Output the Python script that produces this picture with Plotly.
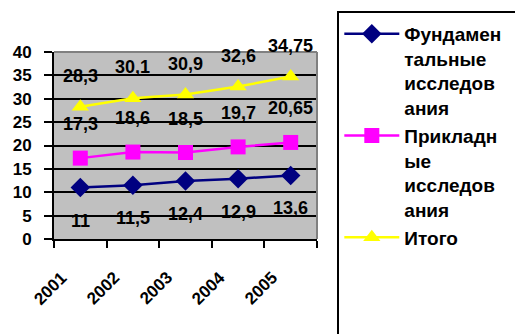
import plotly.graph_objects as go

years = ["2001", "2002", "2003", "2004", "2005"]
fundamental = [11, 11.5, 12.4, 12.9, 13.6]
applied = [17.3, 18.6, 18.5, 19.7, 20.65]
total = [28.3, 30.1, 30.9, 32.6, 34.75]
names = ["Фундамен<br>тальные<br>исследов<br>ания", "Прикладн<br>ые<br>исследов<br>ания", "Итого"]
y_ticks = [0, 5, 10, 15, 20, 25, 30, 35, 40]
colors = ["#000080", "#FF00FF", "#FFFF00"]
symbols = ["diamond", "square", "triangle-up"]
label_shift = [-33, 34, 31]

FONT = "Liberation Sans"

def fmt(v):
    return ("%g" % v).replace(".", ",")

fig = go.Figure()
series = [fundamental, applied, total]
for k, (s, name, c, sym) in enumerate(zip(series, names, colors, symbols)):
    fig.add_trace(go.Scatter(
        x=years, y=s, name="<b>" + name.replace("<br>", "</b><br><b>") + "</b>",
        mode="lines+markers", legendgroup="g%d" % k,
        line=dict(color=c, width=2.5),
        marker=dict(symbol=sym, size=15, color=c),
    ))

annotations = []
for s, sh in zip(series, label_shift):
    for i, v in enumerate(s):
        annotations.append(dict(
            x=i, y=v, xref="x", yref="y", text="<b>" + fmt(v) + "</b>",
            showarrow=False, yshift=sh,
            font=dict(size=18, color="black", family=FONT),
        ))
for i, x in enumerate(years):
    annotations.append(dict(
        x=i, xref="x", y=0, yref="paper", text="<b>" + x + "</b>", showarrow=False,
        textangle=-45, xshift=-30, yshift=-49, xanchor="center", yanchor="middle",
        font=dict(size=17, color="black", family=FONT),
    ))

x0p = (338 - 54) / 263
y1p = (239 - 12) / 187

fig.update_layout(
    width=515, height=334,
    margin=dict(l=54, r=198, t=52, b=95, autoexpand=False),
    paper_bgcolor="white", plot_bgcolor="#C0C0C0",
    font=dict(family=FONT, size=17, color="black"),
    showlegend=True,
    legend=dict(
        x=x0p + 0.005, y=y1p - 0.015, xanchor="left", yanchor="top",
        bgcolor="rgba(0,0,0,0)", borderwidth=0,
        font=dict(size=19, family=FONT),
        itemwidth=55, valign="top", tracegroupgap=8, maxheight=1000,
        traceorder="normal",
    ),
    annotations=annotations,
    shapes=[
        dict(type="rect", xref="paper", yref="paper", x0=x0p, x1=2, y0=-1, y1=y1p,
             line=dict(color="black", width=2), fillcolor="rgba(0,0,0,0)", layer="above"),
        dict(type="line", xref="paper", yref="paper", x0=0, x1=1, y0=1, y1=1,
             line=dict(color="#808080", width=2), layer="above"),
        dict(type="line", xref="paper", yref="paper", x0=1, x1=1, y0=0, y1=1,
             line=dict(color="#808080", width=2), layer="above"),
    ],
)
fig.update_xaxes(
    type="category", range=[-0.5, 4.5], tickson="boundaries",
    showline=True, linecolor="black", linewidth=2,
    ticks="outside", ticklen=7, tickwidth=2, tickcolor="black",
    showgrid=False, showticklabels=False,
)
fig.update_yaxes(
    range=[0, 40], tickvals=y_ticks, ticktext=["<b>%d</b>" % t for t in y_ticks],
    showline=True, linecolor="black", linewidth=2,
    ticks="outside", ticklen=8, tickwidth=2, tickcolor="black",
    showgrid=True, gridcolor="black", gridwidth=2, zeroline=False,
    tickfont=dict(size=17), ticklabelstandoff=9,
)

fig.write_html("out.html")
